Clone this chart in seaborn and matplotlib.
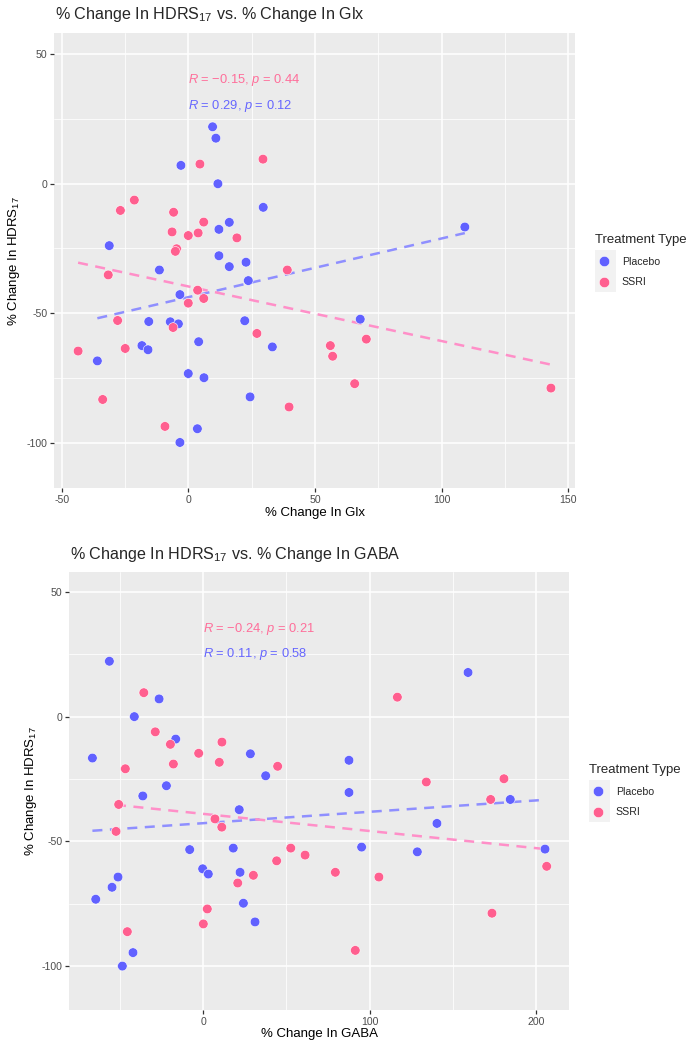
import numpy as np
import pandas as pd
import matplotlib
matplotlib.use("Agg")
import matplotlib.pyplot as plt
from matplotlib.lines import Line2D
from matplotlib.patches import Rectangle
from matplotlib.ticker import MultipleLocator
import seaborn as sns

# ---- data (HDRS17 % change vs metabolite % change) ----
glx_placebo = [9.6, 10.9, -2.9, 11.7, 29.6, 16.2, 12.1, -31.2, 12.1, 16.2, 22.8, -11.4,
               23.7, -3.3, -15.6, -7.1, -3.9, 22.3, 4.1, 33.2, -18.3, -15.9, -35.9, 0.0,
               6.2, 24.4, 3.6, -3.3, 67.9, 109.2]
hdrs_glx_placebo = [22.0, 17.6, 7.1, 0.0, -9.1, -14.9, -17.6, -23.9, -27.8, -32.0, -30.3, -33.3,
                    -37.4, -42.8, -53.2, -53.3, -54.1, -52.9, -61.0, -63.0, -62.5, -64.1, -68.4, -73.3,
                    -74.9, -82.3, -94.6, -99.9, -52.3, -16.7]
glx_ssri = [4.6, 29.5, -21.3, -26.8, -5.8, 6.1, -6.4, 0.0, 3.9, 19.2, -4.6, -5.1,
            -31.6, 39.1, 3.7, 6.1, 0.0, -27.9, -6.0, 27.1, 56.1, 57.0, -43.5, -24.9,
            -33.8, 39.8, -9.2, 70.3, 65.7, 143.2]
hdrs_glx_ssri = [7.6, 9.5, -6.3, -10.3, -11.0, -14.8, -18.6, -20.0, -19.0, -20.9, -25.1, -26.1,
                 -35.2, -33.3, -41.1, -44.3, -46.1, -52.8, -55.5, -57.8, -62.5, -66.6, -64.6, -63.6,
                 -83.3, -86.2, -93.7, -60.0, -77.2, -78.9]

gaba_placebo = [-56.5, 159.2, -26.6, -41.5, -16.6, 28.3, -66.7, 87.6, 37.5, -22.2, 87.6, -36.4,
                184.6, 21.6, 140.5, 95.2, 18.0, 205.5, -8.2, 128.7, -0.4, 22.1, 3.0, -51.3,
                -54.9, -64.7, 24.1, 31.1, -42.3, -48.7]
hdrs_gaba_placebo = [22.2, 17.7, 7.1, 0.0, -9.0, -14.9, -16.6, -17.5, -23.7, -27.7, -30.4, -31.8,
                     -33.2, -37.3, -42.8, -52.3, -52.7, -53.1, -53.3, -54.2, -61.0, -62.4, -63.1, -64.3,
                     -68.4, -73.2, -74.8, -82.3, -94.6, -100.0]
gaba_ssri = [-35.8, 116.7, -28.9, 11.2, -19.8, -2.8, 9.6, -18.0, 44.7, -46.9, 180.8, 134.1,
             172.8, -50.9, 7.0, 11.1, -52.5, 52.6, 61.2, 44.1, 206.5, 79.4, 30.1, 105.6,
             20.7, 2.4, 173.6, 0.0, -45.7, 91.4]
hdrs_gaba_ssri = [9.6, 7.8, -6.1, -10.2, -11.1, -14.7, -18.3, -19.0, -19.9, -20.9, -24.9, -26.2,
                  -33.2, -35.2, -41.0, -44.3, -46.0, -52.7, -55.5, -57.8, -60.0, -62.4, -63.6, -64.3,
                  -66.7, -77.1, -78.8, -83.1, -86.2, -93.7]

groups = ["Placebo", "SSRI"]
cor_glx = {"SSRI": ("\u22120.15", "0.44"), "Placebo": ("0.29", "0.12")}
cor_gaba = {"SSRI": ("\u22120.24", "0.21"), "Placebo": ("0.11", "0.58")}

point_col = {"Placebo": "#6161FF", "SSRI": "#FF5F8F"}
line_col = {"Placebo": "#8F8FFF", "SSRI": "#FF8FC8"}
text_col = {"Placebo": "#6666FF", "SSRI": "#FF6E9A"}

glx_df = pd.DataFrame({
    "x": glx_placebo + glx_ssri,
    "y": hdrs_glx_placebo + hdrs_glx_ssri,
    "group": ["Placebo"] * len(glx_placebo) + ["SSRI"] * len(glx_ssri),
})
gaba_df = pd.DataFrame({
    "x": gaba_placebo + gaba_ssri,
    "y": hdrs_gaba_placebo + hdrs_gaba_ssri,
    "group": ["Placebo"] * len(gaba_placebo) + ["SSRI"] * len(gaba_ssri),
})

sns.set_theme(style="darkgrid", rc={"axes.facecolor": "#EBEBEB", "grid.color": "white"})
plt.rcParams["font.family"] = ["Liberation Sans", "DejaVu Sans"]
plt.rcParams["mathtext.fontset"] = "custom"
plt.rcParams["mathtext.rm"] = "Liberation Sans"
plt.rcParams["mathtext.it"] = "Liberation Sans:italic"
plt.rcParams["axes.unicode_minus"] = False

W, H = 696, 1050
fig = plt.figure(figsize=(W / 100, H / 100), dpi=100)


def px_box(l, t, r, b):
    return [l / W, 1 - b / H, (r - l) / W, (b - t) / H]


def panel(ax, df, cors, label_y, xlim, xmajor, xminor, xlabel):
    for g in groups:
        d = df[df.group == g]
        sns.regplot(data=d, x="x", y="y", ax=ax, scatter=False, ci=None,
                    line_kws=dict(color=line_col[g], ls=(0, (4, 3)), lw=1.8))
    sns.scatterplot(data=df, x="x", y="y", hue="group", hue_order=groups,
                    palette=point_col, s=48, edgecolor="white", linewidth=0.4,
                    legend=False, ax=ax, zorder=3)
    for g, yy in zip(["SSRI", "Placebo"], label_y):
        r, p = cors[g]
        ax.text(0, yy, f"$R$ = {r}, $p$ = {p}", color=text_col[g],
                fontsize=9.3, ha="left", va="center")
    ax.set_xlim(*xlim)
    ax.set_ylim(-117.6, 58.1)
    ax.xaxis.set_major_locator(MultipleLocator(xmajor))
    ax.xaxis.set_minor_locator(MultipleLocator(xminor))
    ax.yaxis.set_major_locator(MultipleLocator(50))
    ax.yaxis.set_minor_locator(MultipleLocator(25))
    ax.grid(which="major", color="white", lw=1.1)
    ax.grid(which="minor", color="white", lw=0.55)
    ax.tick_params(which="major", length=3, width=0.9, color="#333333",
                   labelsize=7.6, labelcolor="#4D4D4D", pad=2,
                   bottom=True, left=True)
    ax.tick_params(which="minor", length=0)
    for s in ax.spines.values():
        s.set_visible(False)
    ax.set_xlabel(xlabel, fontsize=9.5, color="black")
    ax.set_ylabel("% Change In HDRS$_{17}$", fontsize=9.5, color="black")
    ax.xaxis.set_label_coords(0.5, -0.055)
    ax.xaxis.label.set_va("center")
    ax.yaxis.set_label_coords(-0.077, 0.5)
    ax.yaxis.label.set_va("center")


def legend(top, left):
    handles = [Line2D([], [], ls="", marker="o", ms=7.5, mfc=point_col[g],
                      mec="white", mew=0.4) for g in groups]
    fig.patches.append(Rectangle((left / W, 1 - (top + 42.3) / H), 20.7 / W, 42.3 / H,
                                 transform=fig.transFigure, facecolor="#F2F2F2",
                                 edgecolor="none", zorder=0))
    leg = fig.legend(handles, groups, title="Treatment Type", loc="upper left",
                     bbox_to_anchor=((left - 4) / W, 1 - (top - 20.5) / H), frameon=False,
                     fontsize=7.6, title_fontsize=9.5, handlelength=1.6,
                     handletextpad=0.93, labelspacing=1.03, alignment="left",
                     borderaxespad=0)
    return leg


ax1 = fig.add_axes(px_box(54.3, 33.3, 575, 488.3))
panel(ax1, glx_df, cor_glx, (40, 30), (-52.9, 152.7), 50, 25, "% Change In Glx")
ax2 = fig.add_axes(px_box(69.3, 571.7, 569.3, 1010))
panel(ax2, gaba_df, cor_gaba, (35.3, 25.2), (-80.6, 220.1), 100, 50, "% Change In GABA")

fig.text(55 / W, 1 - 15 / H, "% Change In HDRS$_{17}$ vs. % Change In Glx",
         fontsize=11.6, ha="left", va="center")
fig.text(70 / W, 1 - 554 / H, "% Change In HDRS$_{17}$ vs. % Change In GABA",
         fontsize=11.6, ha="left", va="center")

legend(250, 595)
legend(780, 589)

fig.savefig("out.png", dpi=100, facecolor="white")
